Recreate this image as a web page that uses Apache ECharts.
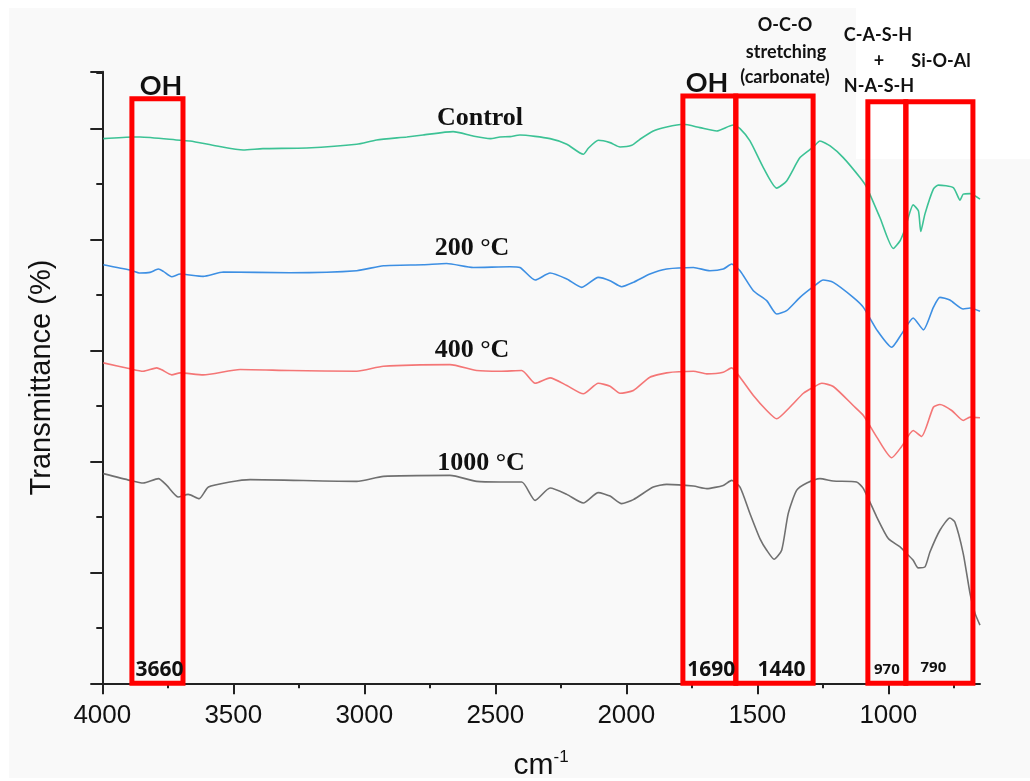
<!DOCTYPE html>
<html>
<head>
<meta charset="utf-8">
<script src="https://cdn.jsdelivr.net/npm/echarts@6/dist/echarts.min.js"></script>
<style>
  html, body { margin: 0; padding: 0; background: #fff; }
  #main { width: 1030px; height: 781px; }
</style>
</head>
<body>
<div id="main"></div>
<script>
// FTIR spectra, wavenumber (cm-1) vs transmittance (arbitrary offset units)
var controlX = [3996,3882,3856,3703,3665,3563,3462,3387,3220,3029,2953,2838,2776,2661,2585,2520,2482,2444,2406,2291,2227,2164,2145,2107,2062,2024,1979,1948,1897,1846,1782,1719,1655,1592,1566,1528,1477,1426,1388,1337,1286,1261,1222,1172,1108,1082,1032,981,955,936,905,885,876,860,828,809,752,726,714,688,650];
var controlY = [490.7,492.2,492.2,489.2,488.6,484.1,480.5,481.7,482.3,485.6,489.5,492.2,494.0,497.0,493.1,490.7,492.2,492.5,494.0,490.7,485.6,476.6,482.0,489.2,487.1,483.2,484.7,490.1,497.6,501.2,503.6,500.6,497.6,503.0,499.7,488.6,464.6,446.1,452.6,473.6,483.2,488.6,484.1,473.6,455.6,446.6,419.6,391.7,398.7,409.5,431.0,425.6,407.0,422.9,445.2,448.8,446.6,435.3,440.7,441.2,436.2];

var t200X = [3996,3894,3856,3818,3786,3767,3735,3703,3615,3538,3284,3029,2927,2775,2686,2584,2444,2406,2348,2291,2227,2170,2107,2062,2018,1973,1910,1846,1744,1681,1630,1598,1566,1515,1464,1426,1388,1337,1286,1248,1210,1134,1095,1044,987,949,905,866,828,803,765,714,688,650];
var t200Y = [377.1,372.3,369.6,370.2,373.2,371.1,366.3,368.7,366.6,370.5,369.9,371.7,376.2,377.1,378.2,374.6,375.3,374.6,363.3,369.6,364.2,356.7,365.7,362.7,357.3,361.2,368.7,373.2,374.6,371.7,373.2,377.7,371.7,353.7,344.7,332.7,335.7,347.7,357.3,363.3,361.2,347.7,338.7,318.4,302.7,314.8,329.1,318.4,338.7,347.7,345.3,337.2,338.1,335.1];

var t400X = [3996,3894,3844,3792,3773,3735,3703,3615,3474,3284,3029,2927,2673,2571,2482,2399,2348,2291,2227,2164,2107,2062,2024,1973,1910,1846,1744,1693,1630,1598,1566,1515,1464,1426,1376,1324,1286,1254,1210,1134,1095,1044,987,949,905,873,828,803,758,714,688,650];
var t400Y = [288.7,283.3,281.1,284.2,282.4,277.9,279.7,277.9,282.7,281.8,281.1,285.6,287.1,281.8,281.1,281.8,270.3,275.2,268.3,260.8,270.3,267.6,261.3,263.8,275.7,279.7,281.1,278.8,280.2,284.2,275.7,259.3,245.8,238.3,248.7,261.3,266.7,270.3,267.4,250.3,241.3,221.8,203.2,213.4,227.8,222.4,248.7,251.2,245.8,236.8,239.8,239.2];

var t1000X = [3996,3894,3844,3786,3754,3710,3672,3630,3595,3513,3436,3029,2927,2673,2571,2482,2399,2348,2291,2227,2164,2107,2062,2018,1973,1897,1846,1744,1693,1630,1598,1566,1528,1490,1464,1436,1407,1382,1350,1311,1261,1210,1121,1095,1044,1000,955,930,905,886,860,841,803,765,746,714,688,669,650];
var t1000Y = [188.9,182.8,180.4,184.4,178.3,167.8,170.2,166.4,176.8,181.3,183.5,181.9,186.4,187.3,181.9,181.3,181.3,164.8,175.9,170.2,162.4,171.8,168.7,161.9,165.5,176.8,179.2,177.7,175.4,178.3,182.8,176.8,152.9,130.4,119.9,111.8,119.9,152.9,173.8,180.4,184.4,182.2,181.3,175.4,149.8,130.4,122.8,116.9,110.9,104.0,104.9,118.3,137.9,148.9,145.3,116.9,80.9,63.0,52.4];

var xTickValues = [4000, 3500, 3000, 2500, 2000, 1500, 1000];

// band annotations (wavenumber edges, box top in y units)
var bandFrom = [3887, 1784, 1582, 1078, 933];
var bandTo = [3692, 1582, 1287, 933, 677];
var bandTop = [526.6, 529, 529, 524, 524];
var bandPeak = ['3660', '1690', '1440', '970', '790'];

function pairs(xs, ys) {
  return xs.map(function (x, i) { return [x, ys[i]]; });
}

var chart = echarts.init(document.getElementById('main'));

var peakLabel = [
  { fontSize: 21, offset: [2, 0], distance: 5 },
  { fontSize: 21, offset: [2, 0], distance: 5 },
  { fontSize: 21, offset: [7, 0], distance: 5 },
  { fontSize: 15, offset: [0, 0], distance: 9 },
  { fontSize: 15, offset: [-6, 0], distance: 11 }
];

var bandData = bandFrom.map(function (from, i) {
  return [
    {
      xAxis: from, yAxis: 0,
      label: {
        show: true, position: 'insideBottom', distance: peakLabel[i].distance,
        formatter: bandPeak[i],
        color: '#111', fontFamily: 'Open Sans', fontWeight: 'bold',
        fontSize: peakLabel[i].fontSize,
        offset: peakLabel[i].offset
      }
    },
    { xAxis: bandTo[i], yAxis: bandTop[i] }
  ];
});

function lineSeries(name, xs, ys, color) {
  return {
    name: name,
    type: 'line',
    data: pairs(xs, ys),
    showSymbol: false,
    symbol: 'none',
    smooth: 0.2,
    lineStyle: { color: color, width: 1.6 },
    z: 2
  };
}

function txt(x, y, text, font) {
  return {
    type: 'text', x: x, y: y, z: 20,
    style: Object.assign({ text: text, fill: '#111', align: 'center', verticalAlign: 'middle' }, font)
  };
}

var serifFont = { fontFamily: 'Liberation Serif', fontWeight: 'bold', fontSize: 26 };
var tagFont = { fontFamily: 'Lato', fontWeight: 'bold', fontSize: 18 };
var ohFont = { fontFamily: 'Lato', fontWeight: 'bold', fontSize: 27 };

option = {
  backgroundColor: '#ffffff',
  animation: false,
  grid: { left: 102.3, right: 50, top: 71.7, bottom: 97.7, outerBoundsMode: 'none' },
  xAxis: {
    type: 'value',
    inverse: true,
    min: 650,
    max: 4000,
    name: 'cm{sup|-1}',
    nameLocation: 'middle',
    nameGap: 66,
    nameTextStyle: {
      color: '#111', fontSize: 30, fontFamily: 'Liberation Sans',
      rich: { sup: { fontSize: 17, verticalAlign: 'top', padding: [0, 0, 16, 0], color: '#111', fontFamily: 'Liberation Sans' } }
    },
    axisLine: { lineStyle: { color: '#222', width: 2 } },
    axisTick: { show: true, length: 11, lineStyle: { color: '#222', width: 2 }, customValues: xTickValues },
    minorTick: { show: true, splitNumber: 2, length: 5, lineStyle: { color: '#222', width: 2 } },
    axisLabel: {
      customValues: xTickValues,
      formatter: function (v) { return String(v); },
      margin: 20, color: '#111', fontSize: 26,
      fontFamily: 'Liberation Sans'
    },
    splitLine: { show: false }
  },
  yAxis: {
    type: 'value',
    min: 0,
    max: 551,
    interval: 100,
    name: 'Transmittance (%)',
    nameLocation: 'middle',
    nameGap: 46,
    nameTextStyle: { color: '#111', fontSize: 29, fontFamily: 'Liberation Sans' },
    axisLine: { show: true, lineStyle: { color: '#222', width: 2 } },
    axisTick: { show: true, length: 12, lineStyle: { color: '#222', width: 2 } },
    minorTick: { show: true, splitNumber: 2, length: 6, lineStyle: { color: '#222', width: 2 } },
    axisLabel: { show: false },
    splitLine: { show: false }
  },
  graphic: [
    { type: 'rect', z: -10, shape: { x: 9, y: 8, width: 1021, height: 770 }, style: { fill: '#f9f9f9' } },
    { type: 'rect', z: -9, shape: { x: 856, y: 0, width: 174, height: 159 }, style: { fill: '#ffffff' } },
    txt(480, 118, 'Control', serifFont),
    txt(472, 248, '200 °C', serifFont),
    txt(472, 350, '400 °C', serifFont),
    txt(481, 463, '1000 °C', serifFont),
    txt(161, 86, 'OH', ohFont),
    txt(707, 83, 'OH', ohFont),
    txt(785, 25, 'O-C-O', tagFont),
    txt(786, 52, 'stretching', tagFont),
    txt(785, 77, '(carbonate)', tagFont),
    txt(878, 35, 'C-A-S-H', tagFont),
    txt(879, 61, '+', tagFont),
    txt(879, 86, 'N-A-S-H', tagFont),
    txt(941, 61, 'Si-O-Al', tagFont)
  ],
  series: [
    lineSeries('Control', controlX, controlY, '#3cc295'),
    lineSeries('200 °C', t200X, t200Y, '#3d8fe3'),
    lineSeries('400 °C', t400X, t400Y, '#f47676'),
    lineSeries('1000 °C', t1000X, t1000Y, '#707070'),
    {
      name: 'bands',
      type: 'line',
      data: [],
      z: 10,
      markArea: {
        z: 10,
        silent: true,
        itemStyle: { color: 'rgba(0,0,0,0)', borderColor: '#ff0000', borderWidth: 5 },
        data: bandData
      }
    }
  ]
};

chart.setOption(option);
</script>
</body>
</html>
